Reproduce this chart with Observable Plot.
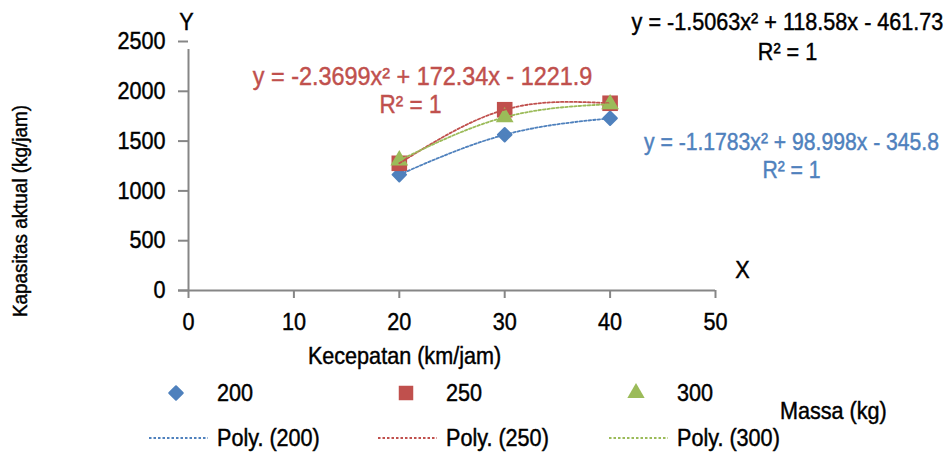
<!DOCTYPE html>
<html><head><meta charset="utf-8">
<script src="https://cdn.jsdelivr.net/npm/d3@7"></script>
<script src="https://cdn.jsdelivr.net/npm/@observablehq/plot@0.6"></script>
<style>
html,body{margin:0;padding:0;background:#fff;}
#chart{width:952px;height:457px;overflow:hidden;}
svg{display:block;}
</style></head><body><div id="chart"></div>
<script>
// ---- data ----
const speeds = [20, 30, 40];
const cap200 = [1163, 1564, 1729];
const cap250 = [1277, 1815, 1880];
const cap300 = [1307, 1740, 1871];
const seriesNames = ["200", "250", "300"];
const trendNames = ["Poly. (200)", "Poly. (250)", "Poly. (300)"];
const xTicks = [0, 10, 20, 30, 40, 50];
const yTicks = [0, 500, 1000, 1500, 2000, 2500];
const eq200 = ["y = -1.1783x² + 98.998x - 345.8", "R² = 1"];
const eq250 = ["y = -2.3699x² + 172.34x - 1221.9", "R² = 1"];
const eq300 = ["y = -1.5063x² + 118.58x - 461.73", "R² = 1"];
const xTitle = "Kecepatan (km/jam)";
const yTitle = "Kapasitas aktual (kg/jam)";
const legendTitle = "Massa (kg)";
const axisLetters = ["X", "Y"];

// ---- styles ----
const colors = ["#4F81BD", "#C0504D", "#9BBB59"];
const gray = "#868686";
const FONT = "'Liberation Sans', Arial, sans-serif";
const FS = 24;
const SQUEEZE = 0.9;

const rows = caps => speeds.map((s, i) => ({x: s, y: caps[i]}));
const d200 = rows(cap200), d250 = rows(cap250), d300 = rows(cap300);

const diamond = {draw(ctx, size) { const h = Math.sqrt(size / 2); ctx.moveTo(0, -h); ctx.lineTo(h, 0); ctx.lineTo(0, h); ctx.lineTo(-h, 0); ctx.closePath(); }};

const txt = (arr, o) => Plot.text(arr, {text: d => d, fontSize: FS, fill: "black", textAnchor: "middle", lineAnchor: "middle", ...o});

const plot = Plot.plot({
  width: 952, height: 370,
  marginLeft: 188, marginRight: 237, marginTop: 41, marginBottom: 80,
  style: {fontFamily: FONT, fontSize: FS + "px", background: "white", overflow: "visible"},
  x: {domain: [0, 50], axis: null},
  y: {domain: [0, 2500], axis: null},
  marks: [
    // axes
    Plot.ruleX([0], {x: d => d, y1: 0, y2: 2500, stroke: gray, strokeWidth: 2, insetBottom: -8}),
    Plot.ruleY([0], {y: d => d, x1: 0, x2: 50, stroke: gray, strokeWidth: 2, insetLeft: -10}),
    Plot.ruleX(xTicks, {x: d => d, y1: 0, y2: 0, stroke: gray, strokeWidth: 2, insetBottom: -8}),
    Plot.ruleY(yTicks, {y: d => d, x1: 0, x2: 0, stroke: gray, strokeWidth: 2, insetLeft: -10}),
    txt(yTicks, {x: 0, y: d => d, text: d => String(d), textAnchor: "end", dx: -23}),
    txt(xTicks, {x: d => d, y: 0, text: d => String(d), dy: 32}),
    txt([xTitle], {frameAnchor: "bottom-left", dx: 216, dy: 66}),
    txt([yTitle], {frameAnchor: "left", rotate: -90, dx: -168, dy: 45, fontSize: 21}),
    txt([axisLetters[1]], {frameAnchor: "top-left", dx: -2, dy: -19}),
    txt([axisLetters[0]], {frameAnchor: "bottom-right", dx: 27, dy: -20}),
    // markers
    Plot.dot(d200, {x: "x", y: "y", symbol: diamond, r: 5.4, fill: colors[0], stroke: colors[0], strokeWidth: 2, strokeLinejoin: "round"}),
    Plot.dot(d250, {x: "x", y: "y", symbol: "square", r: 8.8, fill: colors[1]}),
    Plot.dot(d300, {x: "x", y: "y", symbol: "triangle", r: 6.6, fill: colors[2]}),
    // polynomial trendlines
    Plot.line(d200, {x: "x", y: "y", curve: "natural", stroke: colors[0], strokeWidth: 1.8, strokeDasharray: "2.5,2"}),
    Plot.line(d250, {x: "x", y: "y", curve: "natural", stroke: colors[1], strokeWidth: 1.8, strokeDasharray: "2.5,2"}),
    Plot.line(d300, {x: "x", y: "y", curve: "natural", stroke: colors[2], strokeWidth: 1.8, strokeDasharray: "2.5,2"}),
    // equations
    txt([eq300[0]], {frameAnchor: "top-right", dx: 72, dy: -19}),
    txt([eq300[1]], {frameAnchor: "top-right", dx: 72, dy: 11}),
    txt([eq250[0]], {frameAnchor: "top-left", dx: 234, dy: 35, fill: colors[1], fontSize: 26}),
    txt([eq250[1]], {frameAnchor: "top-left", dx: 222, dy: 63, fill: colors[1], fontSize: 25}),
    txt([eq200[0]], {frameAnchor: "top-right", dx: 76, dy: 101, fill: colors[0], fontSize: 23.5}),
    txt([eq200[1]], {frameAnchor: "top-right", dx: 76, dy: 129, fill: colors[0], fontSize: 23.5})
  ]
});

// narrow every text horizontally around its own anchor (local coordinates) and thicken it slightly
function squeeze(svg, k) {
  svg.querySelectorAll("text").forEach(t => {
    try {
      const b = t.getBBox();
      if (!b || !isFinite(b.x) || b.width === 0) return;
      const cs = getComputedStyle(t);
      const anchor = cs.textAnchor;
      const ax = anchor === "middle" ? b.x + b.width / 2 : anchor === "end" ? b.x + b.width : b.x;
      const tr = t.getAttribute("transform") || "";
      t.setAttribute("transform", `${tr} translate(${ax},0) scale(${k},1) translate(${-ax},0)`);
      t.style.stroke = cs.fill;
      t.style.strokeWidth = "0.45px";
    } catch (e) {}
  });
}
const chart = document.getElementById("chart");
chart.appendChild(plot);
squeeze(plot, SQUEEZE);

// ---- legend (below the plot) ----
const leg = d3.create("svg").attr("width", 952).attr("height", 87)
  .style("font-family", FONT).style("font-size", FS + "px");
const textX = [217, 446, 677];
const symX = [176, 406, 636];
const symTypes = [diamond, d3.symbolSquare, d3.symbolTriangle];
const symSizes = [92, 210, 130];
seriesNames.forEach((name, i) => {
  leg.append("path").attr("d", d3.symbol().type(symTypes[i]).size(symSizes[i])())
    .attr("transform", `translate(${symX[i]},23)`).attr("fill", colors[i])
    .attr("stroke", i === 0 ? colors[0] : "none").attr("stroke-width", 2).attr("stroke-linejoin", "round");
  leg.append("text").attr("x", textX[i]).attr("y", 23).attr("dy", "0.35em").attr("fill", "black").text(name);
  leg.append("line").attr("x1", textX[i] - 68).attr("x2", textX[i] - 9).attr("y1", 68).attr("y2", 68)
    .attr("stroke", colors[i]).attr("stroke-width", 1.8).attr("stroke-dasharray", "2.5,2");
  leg.append("text").attr("x", textX[i]).attr("y", 68).attr("dy", "0.35em").attr("fill", "black").text(trendNames[i]);
});
leg.append("text").attr("x", 780).attr("y", 41).attr("dy", "0.35em").attr("fill", "black").text(legendTitle);
chart.appendChild(leg.node());
squeeze(leg.node(), SQUEEZE);
</script></body></html>
